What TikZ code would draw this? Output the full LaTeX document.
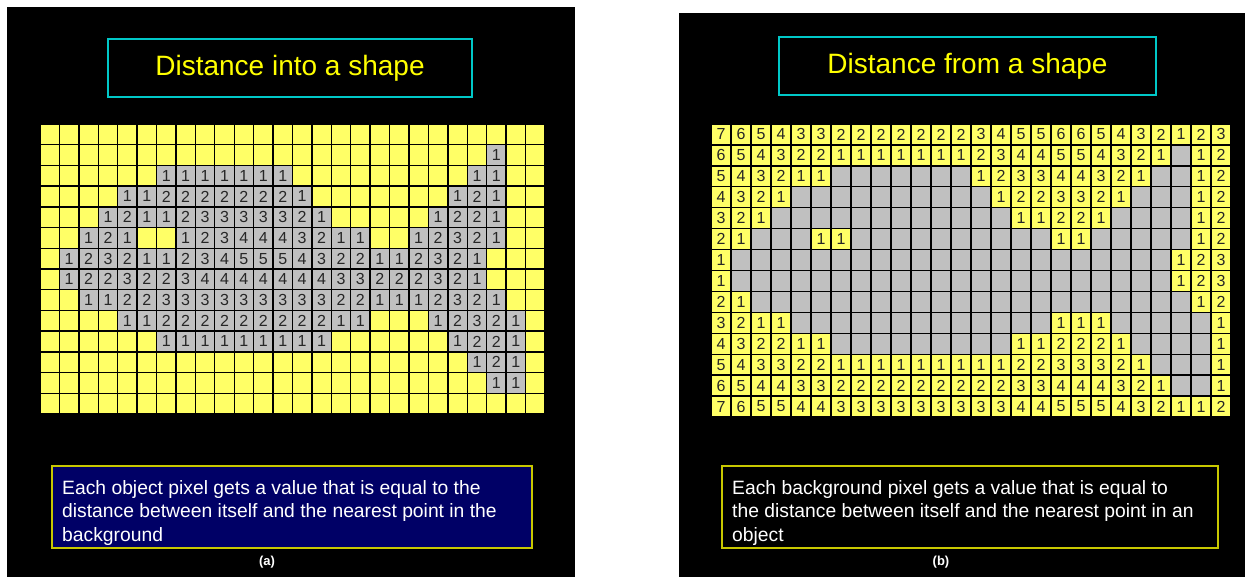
\documentclass[tikz,border=0pt]{standalone}
\usepackage{fontspec}
\setmainfont{Liberation Sans}
\definecolor{cellyellow}{RGB}{255,255,102}
\definecolor{cellgray}{RGB}{192,192,192}
\definecolor{titlecyan}{RGB}{0,200,200}
\definecolor{titleyellow}{RGB}{255,255,0}
\definecolor{boxolive}{RGB}{200,200,0}
\definecolor{boxnavy}{RGB}{0,0,102}
\newcount\gcol
\makeatletter
\newcommand\leftrow[2]{%
  \global\gcol=0
  \@tfor\ch:=#2\do{%
    \if\ch|\else
      \if\ch.\else
        \edef\cc{\the\gcol}%
        \node[lobj] (L-#1-\cc) at ({40+19.42*(\cc+0.5)},{124+20.71*(#1+0.5)}) {\ch};
      \fi
      \global\advance\gcol by 1
    \fi}}
\newcommand\rightrow[2]{%
  \global\gcol=0
  \@tfor\ch:=#2\do{%
    \if\ch|\else
      \if\ch g\else
        \edef\cc{\the\gcol}%
        \node[robj] (R-#1-\cc) at ({711+20*(\cc+0.5)},{124+20.93*(#1+0.5)}) {\ch};
      \fi
      \global\advance\gcol by 1
    \fi}}
\makeatother
\begin{document}
\begin{tikzpicture}[x=1pt,y=-1pt,
  gline/.style={draw=black,line width=1.4pt},
  lobj/.style={draw=black,line width=1.4pt,fill=cellgray,minimum width=19.42pt,minimum height=20.71pt,inner sep=0pt,text=black!85,font=\fontsize{16}{16}\selectfont},
  robj/.style={draw=black,line width=1.4pt,fill=cellyellow,minimum width=20pt,minimum height=20.93pt,inner sep=0pt,text=black!85,font=\fontsize{16}{16}\selectfont},
  titlebox/.style={draw=titlecyan,line width=1.2pt,text=titleyellow,font=\fontsize{28}{28}\selectfont,minimum height=58pt,inner sep=0pt},
  textbox/.style={draw=boxolive,line width=1.5pt,minimum height=82pt,inner sep=0pt},
  bodytext/.style={text=white,font=\fontsize{19.3}{23.5}\selectfont,align=left,inner sep=0pt,anchor=north west},
  lbl/.style={text=white,font=\bfseries\fontsize{13}{13}\selectfont,inner sep=0pt}]
\useasboundingbox (0,0) rectangle (1252,577);
\fill[white] (0,0) rectangle (1252,577);
% panels
\fill[black] (7,7) rectangle (575,577);
\fill[black] (679,13) rectangle (1245,577);
% titles
\node[titlebox,minimum width=364pt] (ltitle) at (290,68) {\raisebox{2pt}{Distance into a shape}};
\node[titlebox,minimum width=377pt] (rtitle) at (967.5,66) {\raisebox{2pt}{Distance from a shape}};
% left grid
\fill[cellyellow] (40,124) rectangle ({40+19.42*26},{124+20.71*14});
\foreach \i in {0,...,26} \draw[gline] ({40+19.42*\i},124) -- ({40+19.42*\i},{124+20.71*14});
\foreach \j in {0,...,14} \draw[gline] (40,{124+20.71*\j}) -- ({40+19.42*26},{124+20.71*\j});
\leftrow{1}{.....|.....|.....|.....|...|1|..}
\leftrow{2}{.....|.|1111111|.....|....|11|..}
\leftrow{3}{....|1122222221|.....|..|121|..}
\leftrow{4}{...|121123333321|.....|1221|..}
\leftrow{5}{..|121|..|1234443211|..|12321|..}
\leftrow{6}{.|12321|12345|55432|21123|21|...}
\leftrow{7}{.|12232|23444|44443|32223|21|...}
\leftrow{8}{..|11223|33333|33322|11123|21|..}
\leftrow{9}{....|11222|22222|211|...|12321|.}
\leftrow{10}{.....|.|11111|1111|.....|.|1221|.}
\leftrow{11}{.....|.....|.....|.....|..|121|.}
\leftrow{12}{.....|.....|.....|.....|...|11|.}
% right grid
\fill[cellgray] (711,124) rectangle ({711+20*26},{124+20.93*14});
\foreach \i in {0,...,26} \draw[gline] ({711+20*\i},124) -- ({711+20*\i},{124+20.93*14});
\foreach \j in {0,...,14} \draw[gline] (711,{124+20.93*\j}) -- ({711+20*26},{124+20.93*\j});
\rightrow{0}{76543|32222|22234|55665|43212|3}
\rightrow{1}{65432|21111|11123|44554|321g1|2}
\rightrow{2}{54321|1gggg|ggg12|33443|21gg1|2}
\rightrow{3}{4321g|ggggg|gggg1|22332|1ggg1|2}
\rightrow{4}{321gg|ggggg|ggggg|11221|gggg1|2}
\rightrow{5}{21ggg|11ggg|ggggg|gg11g|gggg1|2}
\rightrow{6}{1gggg|ggggg|ggggg|ggggg|ggg12|3}
\rightrow{7}{1gggg|ggggg|ggggg|ggggg|ggg12|3}
\rightrow{8}{21ggg|ggggg|ggggg|ggggg|gggg1|2}
\rightrow{9}{3211g|ggggg|ggggg|gg111|ggggg|1}
\rightrow{10}{43221|1gggg|ggggg|11222|1gggg|1}
\rightrow{11}{54332|21111|11111|22333|21ggg|1}
\rightrow{12}{65443|32222|22222|33444|321gg|1}
\rightrow{13}{76554|43333|33333|44555|43211|2}
% text boxes
\node[textbox,fill=boxnavy,minimum width=480pt] (lbox) at (292,507) {};
\node[bodytext] (ltext) at (62,480) {Each object pixel gets a value that is equal to the\\distance between itself and the nearest point in the\\background};
\node[textbox,fill=black,minimum width=496pt] (rbox) at (970,507) {};
\node[bodytext] (rtext) at (732,480) {Each background pixel gets a value that is equal to\\the distance between itself and the nearest point in an\\object};
% captions
\node[lbl] (capa) at (267,562) {(a)};
\node[lbl] (capb) at (941,562) {(b)};
\end{tikzpicture}
\end{document}
